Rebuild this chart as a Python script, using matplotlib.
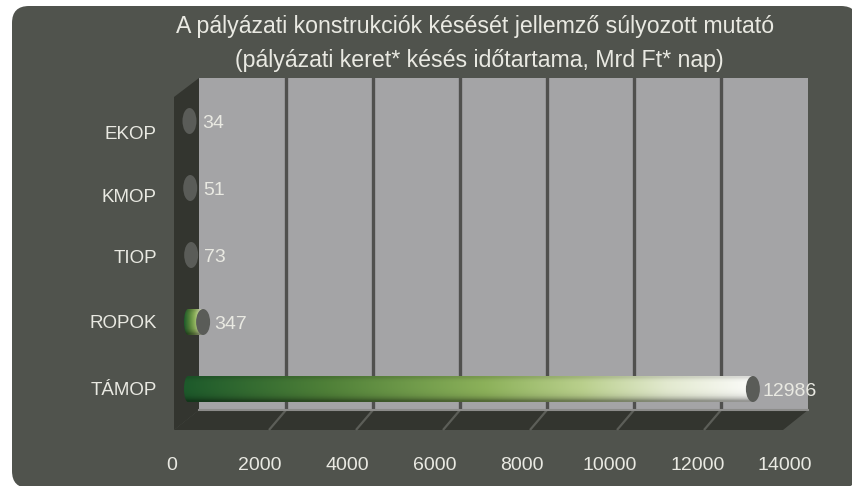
import numpy as np
import matplotlib
matplotlib.use('Agg')
import matplotlib.pyplot as plt
from matplotlib.colors import LinearSegmentedColormap
from matplotlib.patches import Ellipse, FancyBboxPatch, Polygon
from matplotlib.path import Path
from matplotlib.transforms import Affine2D

# Adatok
categories = ['EKOP', 'KMOP', 'TIOP', 'ROPOK', 'TÁMOP']
values = [34, 51, 73, 347, 12986]
x_ticks = [0, 2000, 4000, 6000, 8000, 10000, 12000, 14000]
title_lines = ['A pályázati konstrukciók késését jellemző súlyozott mutató',
               '(pályázati keret* késés időtartama, Mrd Ft* nap)']

plt.rcParams['font.family'] = ['Liberation Sans', 'DejaVu Sans']

W, H = 853, 486
PANEL = '#50534d'
DARK = '#33352f'
WALL = '#a4a4a6'
GRID = '#50504e'
TXT = '#e9e9e2'

fig = plt.figure(figsize=(W / 100, H / 100), dpi=100, facecolor='white')

# Háttér: pixel koordinátás tengely a panelhez, oldalfalhoz, padlóhoz
bg = fig.add_axes([0, 0, 1, 1], zorder=0)
bg.set_xlim(0, W)
bg.set_ylim(H, 0)
bg.axis('off')
bg.add_patch(FancyBboxPatch((12, 6), 846, 482, boxstyle='round,pad=0,rounding_size=17',
                            fc=PANEL, ec='none'))

L, R, T, B = 199, 808, 78, 410
DX, DY = 25, 20
bg.add_patch(Polygon([(L - DX, T + 19), (L, T), (L, B), (L - DX, B + DY)], fc=DARK, ec='none'))
bg.add_patch(Polygon([(L - DX, B + DY), (L, B), (R, B), (R - DX, B + DY)], fc=DARK, ec='none'))

# Fő tengely a hátsó falra
ax = fig.add_axes([L / W, 1 - B / H, (R - L) / W, (B - T) / H], zorder=1)
ax.set_facecolor(WALL)
for s in ax.spines.values():
    s.set_visible(False)
ax.tick_params(left=False, bottom=False, labelleft=False, labelbottom=False)

px_x = 14000 / (R - L)      # érték / pixel
px_y = 1 / 67               # kategória / pixel
y_top = (T - 121) * px_y
y_bot = (B - 121) * px_y
shift = -11 * px_x

y_pos = np.arange(len(categories))

# Rács a falon és a padlón
for t in x_ticks[1:-1]:
    ax.axvline(t, color=GRID, lw=2.4, zorder=1)
    xb = L + t / px_x
    bg.plot([xb, xb - 17], [B, B + DY], color='#5c5e58', lw=1.6, solid_capstyle='butt')
ax.plot([0, 14000], [y_bot, y_bot], color='#8c8c8a', lw=1.5, clip_on=False, zorder=1)

# Színátmenet a hengerekhez
grad = LinearSegmentedColormap.from_list('g', [(0, '#1d5a2b'), (0.25, '#4f8038'), (0.53, '#8cb15a'),
                                               (0.7, '#b9cf8c'), (0.85, '#e2e9cf'), (1, '#fbfbf9')])
rows = np.array([0.88, 0.97, 1.0, 1.0, 1.0, 0.99, 0.97, 0.92, 0.8, 0.6])[:, None, None]
rgb = grad(np.linspace(0, 1, 256))[:, :3][None, :, :] * rows

bar_h = 26 * px_y
cap_w = 14 * px_x
lab_off = [13, 13, 13, 11, 10]
for yp, v, off in zip(y_pos, values, lab_off):
    x0 = shift
    x1 = v + shift
    # a nagyon rövid hengerből csak a véglap látszik
    if v > cap_w:
        im = ax.imshow(rgb, extent=[x0 - 4 * px_x, x1, yp + bar_h / 2, yp - bar_h / 2],
                       aspect='auto', interpolation='bilinear', zorder=2)
        rect = Path([(x0, yp - bar_h / 2), (x1, yp - bar_h / 2), (x1, yp + bar_h / 2),
                     (x0, yp + bar_h / 2), (x0, yp - bar_h / 2)], closed=True)
        circ = Path.unit_circle().transformed(Affine2D().scale(4 * px_x, bar_h / 2).translate(x0, yp))
        im.set_clip_path(Path.make_compound_path(rect, circ), ax.transData)
        im.set_clip_box(fig.bbox)
    ax.add_patch(Ellipse((x1, yp), cap_w, bar_h, fc='#5a5c58', ec='none', zorder=3, clip_on=False))
    ax.annotate(str(v), (x1, yp), xytext=(off, -2), textcoords='offset pixels',
                color=TXT, fontsize=14, va='center', ha='left', annotation_clip=False, zorder=4)

ax.set_xlim(0, 14000)
ax.set_ylim(y_bot, y_top)

# Tengelyfeliratok
cat_dy = [13, 9, 3, 1, 1]
for yp, c, d in zip(y_pos, categories, cat_dy):
    ax.annotate(c, (0, yp), xytext=(157 - L, -d), textcoords='offset pixels',
                color=TXT, fontsize=13.5, va='center', ha='right', annotation_clip=False)
for t in x_ticks:
    ax.annotate(str(t), (t, 0), xycoords=('data', 'axes fraction'), xytext=(-27 + t / 14000 * 4, -55),
                textcoords='offset pixels', color=TXT, fontsize=14, va='center', ha='center',
                annotation_clip=False)

# Cím
bg.text(475.5, 26, title_lines[0], color=TXT, fontsize=16.7, ha='center', va='center')
bg.text(479, 60, title_lines[1], color=TXT, fontsize=16.7, ha='center', va='center')

fig.savefig('out.png', dpi=100, facecolor='white')
